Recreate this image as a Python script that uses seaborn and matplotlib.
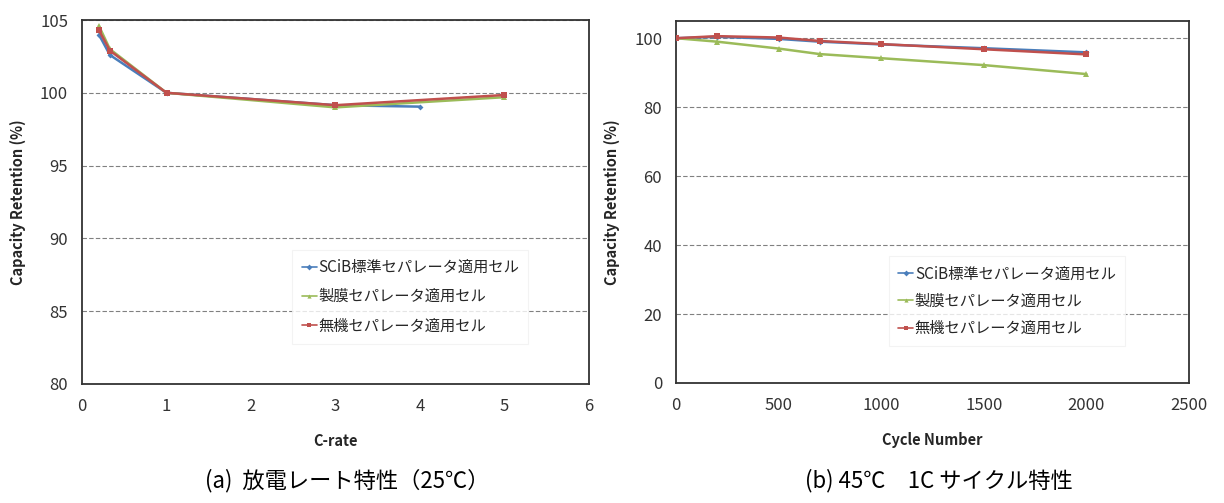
import numpy as np
import pandas as pd
import seaborn as sns
import matplotlib
matplotlib.use("Agg")
import matplotlib.pyplot as plt

# series names
names = ["SCiB標準セパレータ適用セル", "製膜セパレータ適用セル", "無機セパレータ適用セル"]

# (a) rate characteristics
rate_scib = [0.2, 0.33, 1, 3, 4]
cap_scib = [104.0, 102.6, 100.0, 99.15, 99.05]
rate_film = [0.2, 0.33, 1, 3, 5]
cap_film = [104.6, 103.0, 100.0, 99.0, 99.7]
rate_inorg = [0.2, 0.33, 1, 3, 5]
cap_inorg = [104.3, 102.9, 100.0, 99.15, 99.85]

# (b) cycle characteristics
cycles = [0, 200, 500, 700, 1000, 1500, 2000]
cyc_scib = [100.0, 100.4, 99.8, 99.0, 98.2, 97.1, 95.9]
cyc_film = [100.0, 99.0, 97.0, 95.4, 94.2, 92.2, 89.6]
cyc_inorg = [100.0, 100.6, 100.2, 99.2, 98.3, 96.8, 95.3]

colors = {names[0]: "#4A7EBB", names[1]: "#9BBB59", names[2]: "#C0504D"}
markers = {names[0]: "D", names[1]: "^", names[2]: "s"}
msizes = {names[0]: 3, names[1]: 4, names[2]: 5}

df_a = pd.concat([
    pd.DataFrame({"x": rate_scib, "y": cap_scib, "cell": names[0]}),
    pd.DataFrame({"x": rate_film, "y": cap_film, "cell": names[1]}),
    pd.DataFrame({"x": rate_inorg, "y": cap_inorg, "cell": names[2]}),
])
df_b = pd.concat([
    pd.DataFrame({"x": cycles, "y": cyc_scib, "cell": names[0]}),
    pd.DataFrame({"x": cycles, "y": cyc_film, "cell": names[1]}),
    pd.DataFrame({"x": cycles, "y": cyc_inorg, "cell": names[2]}),
])

sns.set_style("white")
plt.rcParams["font.family"] = ["Noto Sans CJK JP", "DejaVu Sans"]

fig = plt.figure(figsize=(12.24, 5.03), dpi=100)
ax1 = fig.add_axes([0.067, 0.2366, 0.4142, 0.7236])
ax2 = fig.add_axes([0.5523, 0.2386, 0.4191, 0.7197])


def draw(ax, df, xlim, xticks, ylim, yticks, xlabel, legend_box, spacing):
    sns.lineplot(data=df, x="x", y="y", hue="cell", style="cell",
                 palette=colors, markers=markers, dashes=False,
                 linewidth=1.8, markersize=5, markeredgewidth=0,
                 sort=False, ax=ax, zorder=3)
    for line, n in zip(ax.get_lines(), names):
        line.set_markersize(msizes[n])
    ax.set_xlim(*xlim)
    ax.set_ylim(*ylim)
    ax.set_xticks(xticks)
    ax.set_yticks(yticks)
    for t in yticks:
        if ylim[0] < t < ylim[1] or t == ylim[1]:
            ax.axhline(t, color="#808080", linestyle=(0, (4, 2)), linewidth=0.8, zorder=1)
    ax.tick_params(axis="x", direction="in", length=4, width=0.8, color="#808080",
                   labelsize=12, pad=10, labelcolor="#333333")
    ax.tick_params(axis="y", length=0, labelsize=12, pad=10, labelcolor="#333333")
    for s in ax.spines.values():
        s.set_color("#333333")
        s.set_linewidth(1.3)
    ax.set_xlabel(xlabel, fontsize=10.5, fontweight="bold", labelpad=13)
    ax.set_ylabel("Capacity Retention (%)", fontsize=10.5, fontweight="bold", labelpad=10)
    leg = ax.legend(loc="lower left", bbox_to_anchor=legend_box, frameon=True,
                    fontsize=11, handlelength=1.0, handletextpad=0.1,
                    labelspacing=spacing, borderpad=0.6, fancybox=False)
    leg.get_frame().set_edgecolor("#f0f0f0")
    leg.get_frame().set_linewidth(0.8)
    for h in leg.legend_handles:
        h.set_linewidth(1.2)
        h.set_markersize(3)


draw(ax1, df_a, (0, 6), range(0, 7), (80, 105), range(80, 106, 5), "C-rate",
     (0.40, 0.09), 0.8)
draw(ax2, df_b, (0, 2500), range(0, 2501, 500), (0, 105), range(0, 101, 20), "Cycle Number",
     (0.40, 0.08), 0.68)

fig.text(205 / 1224, 0.03, "(a)  放電レート特性（25℃）", ha="left", fontsize=16, color="black")
fig.text(805 / 1224, 0.03, "(b) 45℃　1C サイクル特性", ha="left", fontsize=16, color="black")

fig.savefig("out.png", dpi=100)
